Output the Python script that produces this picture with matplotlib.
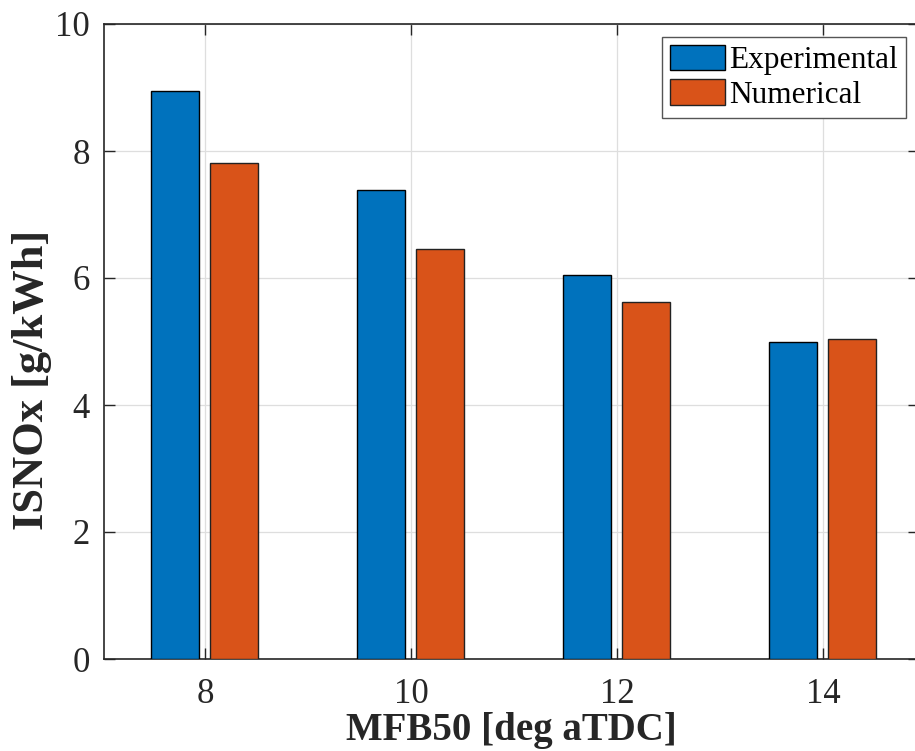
import numpy as np
import matplotlib.pyplot as plt

plt.rcParams['font.family'] = ['Liberation Serif', 'DejaVu Serif']

mfb50 = [8, 10, 12, 14]
isnox_exp = [8.94, 7.38, 6.04, 5.00]
isnox_num = [7.81, 6.45, 5.62, 5.04]

blue = '#0072bd'
orange = '#d95319'
dark = '#262626'

fig = plt.figure(figsize=(9.15, 7.51), dpi=100)
ax = fig.add_axes([104/915, 92/751, (919-104)/915, (659-24)/751])

x = np.array(mfb50, dtype=float)
w = 0.465
ax.bar(x - 0.29, isnox_exp, width=w, color=blue, edgecolor='k', linewidth=1,
       label='Experimental', zorder=3)
ax.bar(x + 0.28, isnox_num, width=w, color=orange, edgecolor='#222222', linewidth=1,
       label='Numerical', zorder=3)

ax.set_xlim(7.02, 14.93)
ax.set_ylim(0, 10)
ax.set_xticks(mfb50)
ax.set_yticks([0, 2, 4, 6, 8, 10])
ax.grid(True, color='#dedede', linewidth=0.9, zorder=0)
ax.tick_params(direction='in', top=True, right=True, length=8, width=1,
               labelsize=25, colors=dark, labelcolor=dark)
ax.tick_params(axis='x', pad=14)
ax.tick_params(axis='y', pad=10)
for s in ax.spines.values():
    s.set_color(dark)
    s.set_linewidth(1.2)

# axis labels placed by hand, bottom one sits on the lower figure edge
ax.set_xlabel('MFB50 [deg aTDC]', fontsize=28, fontweight='bold', color=dark)
ax.xaxis.set_label_coords(0.5, -(749 - 659) / 635)
ax.xaxis.label.set_verticalalignment('bottom')
ax.set_ylabel('ISNOx [g/kWh]', fontsize=32, fontweight='bold', color=dark)
ax.yaxis.set_label_coords(-(104 - 52) / 815, 0.44)

leg = ax.legend(loc='upper right', bbox_to_anchor=(906/915, 1 - 37/751),
                bbox_transform=fig.transFigure, borderaxespad=0,
                fontsize=22.5, fancybox=False, framealpha=1,
                edgecolor='#555555', handlelength=1.75, handleheight=0.88,
                handletextpad=0.15, borderpad=0.25, labelspacing=0.12)
leg.get_frame().set_linewidth(1)

fig.savefig('out.png', dpi=100)
